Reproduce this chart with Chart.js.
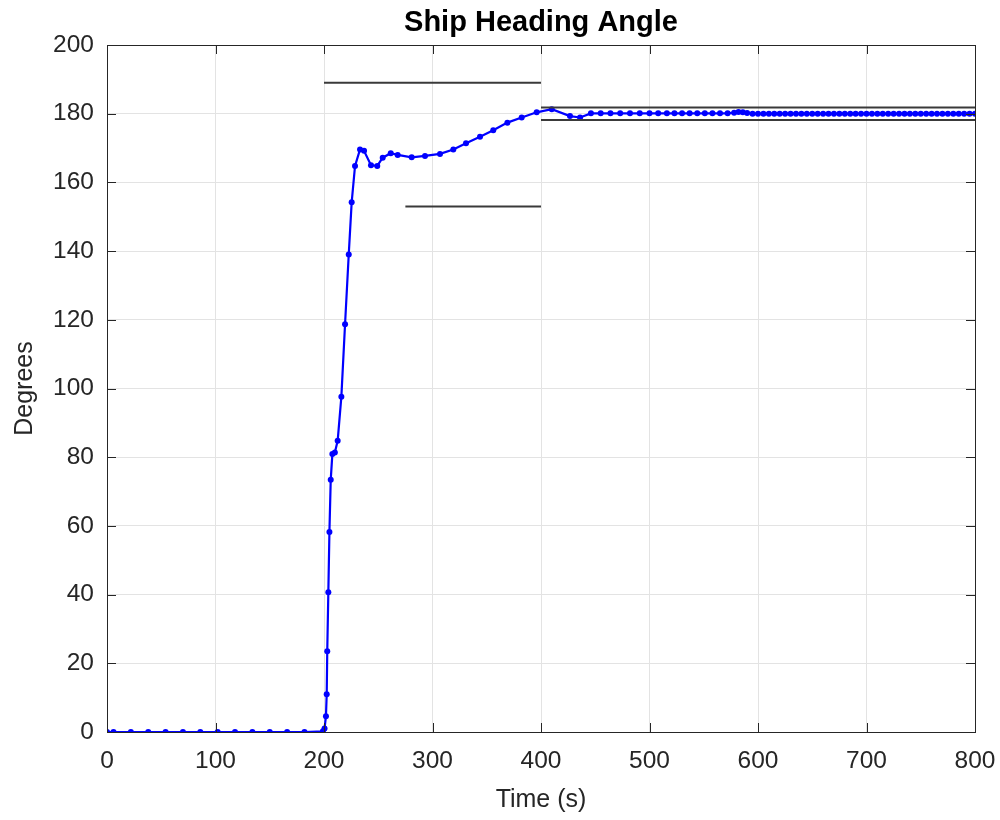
<!DOCTYPE html>
<html>
<head>
<meta charset="utf-8">
<title>Ship Heading Angle</title>
<script src="https://cdn.jsdelivr.net/npm/chart.js@4/dist/chart.umd.min.js"></script>
<style>
    html, body { margin: 0; padding: 0; background: #ffffff; }
    #contenedor { width: 1000px; height: 820px; }
</style>
</head>
<body>
<div id="contenedor"><canvas id="graficoRumbo" width="1000" height="820"></canvas></div>
<script>
// DATOS DEL RUMBO
let headingTime = [
    0, 6, 22, 38, 54, 70, 86, 102, 118, 134, 150, 166, 182, 199,
    200.5, 201.8, 202.5, 203, 204, 205, 206.2, 207.7, 210, 212.6,
    216, 219.4, 222.8, 225.5, 228.6, 233.2, 236.9, 243.3, 249.1, 254.1,
    261.5, 267.9, 280.8, 293.1, 306.9, 319.2, 330.9, 343.8, 356, 369,
    382.2, 396, 409.9, 426.7, 436, 446, 455, 464, 473, 482,
    491, 500, 508, 516, 523, 530, 537, 544, 551, 558,
    565, 572, 578, 582, 586, 590, 595, 600, 605, 610,
    615, 620, 625, 630, 635, 640, 645, 650, 655, 660,
    665, 670, 675, 680, 685, 690, 695, 700, 705, 710,
    715, 720, 725, 730, 735, 740, 745, 750, 755, 760,
    765, 770, 775, 780, 785, 790, 795, 800
];
let headingDeg = [
    0, 0, 0, 0, 0, 0, 0, 0, 0, 0, 0, 0, 0, 0.2,
    1, 4.6, 11, 23.5, 40.7, 58.2, 73.4, 80.9, 81.4, 84.8,
    97.6, 118.7, 139, 154.2, 164.8, 169.6, 169.2, 165, 164.8, 167.2,
    168.5, 168, 167.3, 167.7, 168.3, 169.6, 171.4, 173.3, 175.2, 177.4,
    178.9, 180.4, 181.3, 179.3, 178.9, 180.1, 180.1, 180.1, 180.1, 180.1,
    180.1, 180.1, 180.1, 180.1, 180.1, 180.1, 180.1, 180.1, 180.1, 180.1,
    180.1, 180.1, 180.3, 180.5, 180.4, 180.2, 180, 180, 180, 180,
    180, 180, 180, 180, 180, 180, 180, 180, 180, 180,
    180, 180, 180, 180, 180, 180, 180, 180, 180, 180,
    180, 180, 180, 180, 180, 180, 180, 180, 180, 180,
    180, 180, 180, 180, 180, 180, 180, 180
];

// Lineas de referencia (sobrepico, subida y banda de asentamiento)
let overshootTime = [200, 400];
let overshootDeg = [189, 189];
let riseTime = [275, 400];
let riseDeg = [153, 153];
let bandTime = [400, 800];
let bandUpperDeg = [181.8, 181.8];
let bandLowerDeg = [178.2, 178.2];

// Ejes
let xTicks = [0, 100, 200, 300, 400, 500, 600, 700, 800];
let yTicks = [0, 20, 40, 60, 80, 100, 120, 140, 160, 180, 200];
let tituloGrafico = 'Ship Heading Angle';

document.addEventListener('DOMContentLoaded', function() {

    // junta dos listas en puntos {x, y}
    function hacerPuntos(listaX, listaY) {
        let puntos = [];
        for (let i = 0; i < listaX.length; i++) {
            puntos.push({ x: listaX[i], y: listaY[i] });
        }
        return puntos;
    }

    let fuente = "'Liberation Sans', Arial, Helvetica, sans-serif";
    let colorTexto = '#262626';

    // caja completa, marcas hacia dentro y titulo centrado sobre los ejes, como en MATLAB
    let marcoPlugin = {
        id: 'marco',
        afterDatasetsDraw: function(chart) {
            let ctx = chart.ctx;
            let area = chart.chartArea;
            let ejeX = chart.scales.x;
            let ejeY = chart.scales.y;
            ctx.save();
            ctx.strokeStyle = colorTexto;
            ctx.lineWidth = 1;
            ctx.beginPath();
            for (let i = 0; i < xTicks.length; i++) {
                let px = Math.round(ejeX.getPixelForValue(xTicks[i])) + 0.5;
                ctx.moveTo(px, area.bottom);
                ctx.lineTo(px, area.bottom - 9);
                ctx.moveTo(px, area.top);
                ctx.lineTo(px, area.top + 9);
            }
            for (let i = 0; i < yTicks.length; i++) {
                let py = Math.round(ejeY.getPixelForValue(yTicks[i])) + 0.5;
                ctx.moveTo(area.left, py);
                ctx.lineTo(area.left + 9, py);
                ctx.moveTo(area.right, py);
                ctx.lineTo(area.right - 9, py);
            }
            ctx.stroke();
            ctx.strokeRect(Math.round(area.left) + 0.5, Math.round(area.top) + 0.5,
                Math.round(area.right - area.left), Math.round(area.bottom - area.top));

            // titulo
            ctx.fillStyle = '#000000';
            ctx.font = 'bold 29px ' + fuente;
            ctx.textAlign = 'center';
            ctx.textBaseline = 'middle';
            ctx.fillText(tituloGrafico, (area.left + area.right) / 2, 23);
            ctx.restore();
        }
    };

    let lineaNegra = {
        borderColor: '#3a3a3a',
        borderWidth: 2,
        pointRadius: 0,
        fill: false,
        order: 0
    };

    let ctx = document.getElementById('graficoRumbo').getContext('2d');
    let miGrafico = new Chart(ctx, {
        type: 'line',
        data: {
            datasets: [
                {
                    label: 'Heading',
                    data: hacerPuntos(headingTime, headingDeg),
                    borderColor: '#0000ff',
                    backgroundColor: '#0000ff',
                    borderWidth: 2.2,
                    pointRadius: 3,
                    pointBorderWidth: 0,
                    pointBackgroundColor: '#0000ff',
                    fill: false,
                    tension: 0,
                    order: 1
                },
                Object.assign({ label: 'Overshoot', data: hacerPuntos(overshootTime, overshootDeg) }, lineaNegra),
                Object.assign({ label: 'Rise', data: hacerPuntos(riseTime, riseDeg) }, lineaNegra),
                Object.assign({ label: 'Band upper', data: hacerPuntos(bandTime, bandUpperDeg) }, lineaNegra),
                Object.assign({ label: 'Band lower', data: hacerPuntos(bandTime, bandLowerDeg) }, lineaNegra)
            ]
        },
        options: {
            responsive: false,
            animation: false,
            layout: { padding: { left: 0, right: 25, top: 45, bottom: 0 } },
            plugins: {
                legend: { display: false },
                tooltip: { enabled: false },
                title: { display: false }
            },
            scales: {
                x: {
                    type: 'linear',
                    min: 0,
                    max: 800,
                    afterBuildTicks: function(eje) {
                        eje.ticks = xTicks.map(function(v) { return { value: v }; });
                    },
                    afterFit: function(eje) {
                        eje.height = 88;
                        eje.paddingLeft = 0;
                        eje.paddingRight = 0;
                    },
                    grid: { color: '#e3e3e3', lineWidth: 1, drawTicks: false },
                    border: { color: colorTexto, width: 1 },
                    ticks: {
                        color: colorTexto,
                        font: { family: fuente, size: 24.5 },
                        padding: 15,
                        maxRotation: 0
                    },
                    title: {
                        display: true,
                        text: 'Time (s)',
                        color: colorTexto,
                        font: { family: fuente, size: 25 },
                        padding: { top: 0, bottom: 5 }
                    }
                },
                y: {
                    type: 'linear',
                    min: 0,
                    max: 200,
                    afterBuildTicks: function(eje) {
                        eje.ticks = yTicks.map(function(v) { return { value: v }; });
                    },
                    afterFit: function(eje) {
                        eje.width = 107;
                        eje.paddingTop = 0;
                        eje.paddingBottom = 0;
                    },
                    grid: { color: '#e3e3e3', lineWidth: 1, drawTicks: false },
                    border: { color: colorTexto, width: 1 },
                    ticks: {
                        color: colorTexto,
                        font: { family: fuente, size: 24.5 },
                        padding: 13
                    },
                    title: {
                        display: true,
                        text: 'Degrees',
                        color: colorTexto,
                        font: { family: fuente, size: 25 },
                        padding: { top: 10, bottom: 0 }
                    }
                }
            }
        },
        plugins: [marcoPlugin]
    });
});
</script>
</body>
</html>
